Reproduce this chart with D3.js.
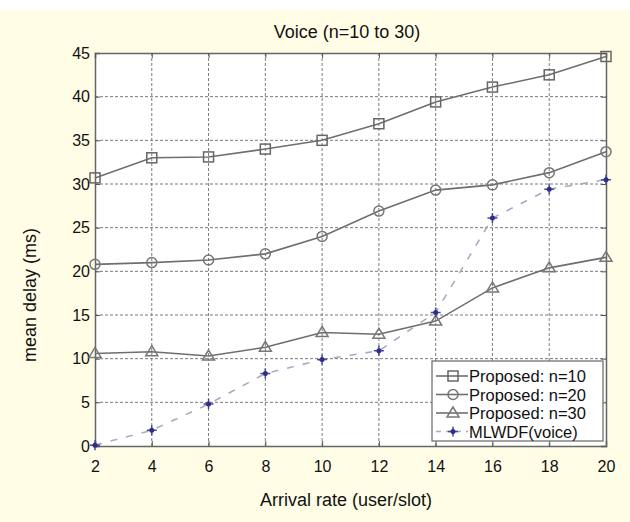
<!DOCTYPE html>
<html>
<head>
<meta charset="utf-8">
<script src="https://cdn.jsdelivr.net/npm/d3@7"></script>
<style>
  body { margin: 0; background: #fff; }
  svg { display: block; font-family: "Liberation Sans", Arial, sans-serif; }
</style>
</head>
<body>
<svg id="chart" width="630" height="522"></svg>
<script>
const arrivalRates = [2, 4, 6, 8, 10, 12, 14, 16, 18, 20];
const proposedN10 = [30.7, 33.0, 33.1, 34.0, 35.0, 36.9, 39.4, 41.1, 42.5, 44.6];
const proposedN20 = [20.8, 21.0, 21.3, 22.0, 24.0, 26.9, 29.3, 29.9, 31.3, 33.7];
const proposedN30 = [10.6, 10.8, 10.3, 11.3, 13.0, 12.8, 14.3, 18.1, 20.4, 21.6];
const mlwdfVoice = [0.1, 1.8, 4.8, 8.3, 9.9, 10.9, 15.3, 26.1, 29.4, 30.5];
const yTicks = [0, 5, 10, 15, 20, 25, 30, 35, 40, 45];

const series = [
  { name: 'Proposed: n=10', values: proposedN10, marker: 'square' },
  { name: 'Proposed: n=20', values: proposedN20, marker: 'circle' },
  { name: 'Proposed: n=30', values: proposedN30, marker: 'triangle' },
  { name: 'MLWDF(voice)', values: mlwdfVoice, marker: 'star' },
];

const svg = d3.select('#chart');
const W = 630, H = 522;
const m = { left: 95, right: 24, top: 53, bottom: 76 };
const font = '"Liberation Sans", Arial, sans-serif';

// cream page background below the white strip
svg.append('rect').attr('x', 0).attr('y', 10).attr('width', W).attr('height', H - 10)
  .attr('fill', '#fffde6');

const x = d3.scaleLinear().domain([2, 20]).range([m.left, W - m.right]);
const y = d3.scaleLinear().domain([0, 45]).range([H - m.bottom, m.top]);

svg.append('rect')
  .attr('x', x(2)).attr('y', y(45))
  .attr('width', x(20) - x(2)).attr('height', y(0) - y(45))
  .attr('fill', '#fff');

// grid
const grid = svg.append('g').attr('stroke', '#444').attr('stroke-width', 1)
  .attr('stroke-dasharray', '3,2').attr('opacity', 0.7);
grid.selectAll('.gx').data(arrivalRates.slice(1, -1)).join('line')
  .attr('x1', d => x(d)).attr('x2', d => x(d))
  .attr('y1', y(0)).attr('y2', y(45));
grid.selectAll('.gy').data(yTicks.slice(1, -1)).join('line')
  .attr('x1', x(2)).attr('x2', x(20))
  .attr('y1', d => y(d)).attr('y2', d => y(d));

// axes, ticks inward like matlab
svg.append('g').attr('transform', `translate(0,${y(0)})`)
  .call(d3.axisBottom(x).tickValues(arrivalRates).tickSize(-5).tickPadding(15));
svg.append('g').attr('transform', `translate(${x(2)},0)`)
  .call(d3.axisLeft(y).tickValues(yTicks).tickSize(-5).tickPadding(5));
svg.append('g').attr('transform', `translate(0,${y(45)})`)
  .call(d3.axisTop(x).tickValues(arrivalRates).tickSize(-5).tickFormat(''));
svg.append('g').attr('transform', `translate(${x(20)},0)`)
  .call(d3.axisRight(y).tickValues(yTicks).tickSize(-5).tickFormat(''));

svg.selectAll('.domain').attr('stroke', '#666').attr('stroke-width', 1.5);
svg.selectAll('.tick line').attr('stroke', '#555');
svg.selectAll('.tick text').attr('font-size', 16).attr('fill', '#111')
  .attr('font-family', font);

// labels
svg.append('text').attr('x', 347).attr('y', 38)
  .attr('text-anchor', 'middle').attr('font-size', 18).attr('fill', '#111')
  .attr('font-family', font).text('Voice (n=10 to 30)');
svg.append('text').attr('x', 346).attr('y', 506)
  .attr('text-anchor', 'middle').attr('font-size', 18).attr('fill', '#111')
  .attr('font-family', font).text('Arrival rate (user/slot)');
svg.append('text')
  .attr('transform', 'translate(36,295) rotate(-90)')
  .attr('text-anchor', 'middle').attr('font-size', 18).attr('fill', '#111')
  .attr('font-family', font).text('mean delay (ms)');

function drawMarker(g, type, cx, cy) {
  if (type === 'square') {
    g.append('rect').attr('x', cx - 5).attr('y', cy - 5).attr('width', 10).attr('height', 10)
      .attr('fill', 'none').attr('stroke', '#666').attr('stroke-width', 1.5);
  } else if (type === 'circle') {
    g.append('circle').attr('cx', cx).attr('cy', cy).attr('r', 5)
      .attr('fill', 'none').attr('stroke', '#777').attr('stroke-width', 1.5);
  } else if (type === 'triangle') {
    g.append('path').attr('d', `M${cx},${cy - 6}L${cx + 6},${cy + 4}L${cx - 6},${cy + 4}Z`)
      .attr('fill', 'none').attr('stroke', '#777').attr('stroke-width', 1.5);
  } else {
    g.append('path').attr('d', `M${cx - 5},${cy}H${cx + 5}M${cx},${cy - 5}V${cy + 5}`)
      .attr('stroke', '#4a4a9a').attr('stroke-width', 1.5);
    g.append('circle').attr('cx', cx).attr('cy', cy).attr('r', 2.5).attr('fill', '#2e2e8a');
  }
}

const line = d3.line().x((d, i) => x(arrivalRates[i])).y(d => y(d));
const plot = svg.append('g');
series.forEach(s => {
  const isStar = s.marker === 'star';
  plot.append('path').datum(s.values).attr('d', line).attr('fill', 'none')
    .attr('stroke', isStar ? '#a9a9c4' : '#6e6e6e')
    .attr('stroke-width', 1.6)
    .attr('stroke-dasharray', isStar ? '7,9' : null);
  const mg = plot.append('g');
  s.values.forEach((v, i) => drawMarker(mg, s.marker, x(arrivalRates[i]), y(v)));
});

// legend
const lg = svg.append('g').attr('transform', 'translate(432,361)');
lg.append('rect').attr('width', 171).attr('height', 80)
  .attr('fill', '#fff').attr('stroke', '#666').attr('stroke-width', 1.2);
series.forEach((s, i) => {
  const ly = 15 + i * 18.5;
  const isStar = s.marker === 'star';
  const row = lg.append('g');
  row.append('line').attr('x1', 4).attr('x2', 36).attr('y1', ly).attr('y2', ly)
    .attr('stroke', isStar ? '#a9a9c4' : '#6e6e6e').attr('stroke-width', 1.6)
    .attr('stroke-dasharray', isStar ? '5,5' : null);
  drawMarker(row, s.marker, 21, ly);
  row.append('text').attr('x', 37).attr('y', ly + 6).attr('font-size', 16.5).attr('fill', '#111')
    .attr('font-family', font).text(s.name);
});
</script>
</body>
</html>
